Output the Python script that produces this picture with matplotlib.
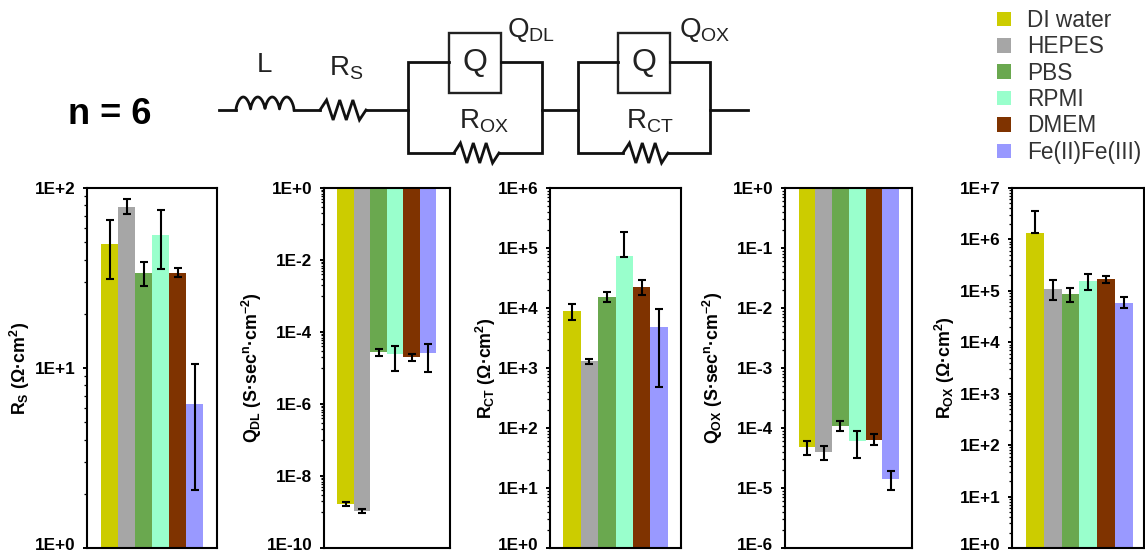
#!/usr/bin/python3
import numpy as np
import matplotlib
matplotlib.use('Agg')
import matplotlib.pyplot as plt
import matplotlib.patches as patches
from matplotlib.transforms import ScaledTranslation

plt.rcParams['font.family'] = ['Liberation Sans', 'DejaVu Sans']
plt.rcParams['mathtext.default'] = 'regular'

W, H = 1145, 552

media = ['DI water', 'HEPES', 'PBS', 'RPMI', 'DMEM', 'Fe(II)Fe(III)']
colors = ['#CCCC00', '#A6A6A6', '#6AA84F', '#99FFCC', '#7F3300', '#9999FF']

rs = [49, 78.4, 33.6, 55, 33.6, 6.3]
rs_hi = [66.6, 87, 39, 75.5, 36, 10.5]
rs_lo = [31.3, 71.7, 28.6, 35.4, 32, 2.1]

qdl = [1.68e-9, 1.07e-9, 2.85e-5, 2.45e-5, 2.0e-5, 2.6e-5]
qdl_hi = [1.9e-9, 1.24e-9, 3.4e-5, 4.0e-5, 2.45e-5, 4.6e-5]
qdl_lo = [1.44e-9, 9.1e-10, 2.1e-5, 8.5e-6, 1.57e-5, 7.6e-6]

rct = [8.9e3, 1.3e3, 1.53e4, 7.3e4, 2.2e4, 4.8e3]
rct_hi = [1.18e4, 1.39e3, 1.83e4, 1.82e5, 2.95e4, 9.7e3]
rct_lo = [6.4e3, 1.18e3, 1.25e4, 7.1e4, 1.65e4, 481]

qox = [4.74e-5, 4.0e-5, 1.08e-4, 6.05e-5, 6.4e-5, 1.4e-5]
qox_hi = [6.05e-5, 5.06e-5, 1.32e-4, 9e-5, 7.9e-5, 1.9e-5]
qox_lo = [3.6e-5, 2.88e-5, 8.9e-5, 3.2e-5, 5.3e-5, 9.1e-6]

rox = [1.36e6, 1.1e5, 8.5e4, 1.55e5, 1.69e5, 5.9e4]
rox_hi = [3.6e6, 1.6e5, 1.13e5, 2.1e5, 1.98e5, 7.5e4]
rox_lo = [1.36e6, 6.5e4, 6.2e4, 1.02e5, 1.44e5, 4.6e4]

fig = plt.figure(figsize=(W / 100, H / 100), dpi=100)


def panel(left, right, bar0, bar_w, vals, hi, lo, exps, step, baseline, label, label_x):
    top, bottom = 188, 548
    ax = fig.add_axes([left / W, 1 - bottom / H, (right - left) / W, (bottom - top) / H])
    ax.set_yscale('log')
    ax.set_ylim(10.0 ** exps[0], 10.0 ** exps[1])
    # keep the bars at their pixel width, bar0 is the left edge of the first one
    ax.set_xlim(-0.5 - (bar0 - left) / bar_w, -0.5 + (right - bar0) / bar_w)
    x = np.arange(len(vals))
    vals, hi, lo = np.array(vals), np.array(hi), np.array(lo)
    bars = ax.bar(x, np.abs(baseline - vals), 1.0, bottom=np.minimum(baseline, vals), color=colors)
    ax.errorbar(x, vals, yerr=[vals - lo, hi - vals], fmt='none', ecolor='black',
                elinewidth=1.5, capsize=2.8, capthick=1.5)
    major = np.arange(exps[0], exps[1] + 1, step)
    ax.set_yticks(10.0 ** major)
    ax.set_yticklabels(['1E%+d' % e for e in major], fontweight='bold', fontsize=12.3)
    minor = [k * 10.0 ** (e - 1) for e in major[1:] for k in range(1, 10)]
    ax.set_yticks(minor, minor=True)
    ax.set_yticklabels([], minor=True)
    ax.set_xticks([])
    ax.tick_params(axis='y', which='major', length=3, width=1.4, pad=5.5)
    ax.tick_params(axis='y', which='minor', length=2, width=0.9)
    # lowest label sits a bit higher so it stays inside the picture
    low = ax.get_yticklabels()[0]
    low.set_transform(low.get_transform() + ScaledTranslation(0, 4.5 / 100, fig.dpi_scale_trans))
    for s in ax.spines.values():
        s.set_linewidth(1.5)
    ax.set_ylabel(label, fontweight='bold', fontsize=12.8, va='center')
    ax.yaxis.set_label_coords((label_x - left) / (right - left), 0.5)
    return bars


bars = panel(87, 217, 101, 17.0, rs, rs_hi, rs_lo, (0, 2), 1, 1.0, 'R$_{S}$ (Ω·cm$^{2}$)', 20)
panel(324, 450, 337.3, 16.5, qdl, qdl_hi, qdl_lo, (-10, 0), 2, 1.0, 'Q$_{DL}$ (S·sec$^{n}$·cm$^{-2}$)', 252)
panel(550, 681, 563.3, 17.4, rct, rct_hi, rct_lo, (0, 6), 1, 1.0, 'R$_{CT}$ (Ω·cm$^{2}$)', 486)
panel(785, 912, 798.7, 16.7, qox, qox_hi, qox_lo, (-6, 0), 1, 1.0, 'Q$_{OX}$ (S·sec$^{n}$·cm$^{-2}$)', 713)
panel(1012, 1144, 1025.7, 17.9, rox, rox_hi, rox_lo, (0, 7), 1, 1.0, 'R$_{OX}$ (Ω·cm$^{2}$)', 945)

fig.legend(bars, media, loc='upper left', bbox_to_anchor=(981 / W, 1 + 7 / H), frameon=False,
           fontsize=16.3, handlelength=0.62, handleheight=0.62, handletextpad=0.72,
           labelspacing=0.15, labelcolor='#333333', borderaxespad=0.3)

# circuit drawing, pixel coordinates of the picture
sk = fig.add_axes([0, 0, 1, 1], zorder=5)
sk.set_xlim(0, W)
sk.set_ylim(H, 0)
sk.axis('off')
sk.patch.set_alpha(0)

wire = dict(color='#111111', lw=2.0, solid_capstyle='projecting', solid_joinstyle='miter')


def resistor(x0, x1, y, amp=10):
    xs = np.linspace(x0, x1, 8)
    ys = [y, y - amp, y + amp, y - amp, y + amp, y - amp, y + amp, y]
    sk.plot(xs, ys, **wire)


def coil(x0, x1, y, amp=13):
    t = np.linspace(0, 1, 200)
    xs = x0 + (x1 - x0) * t
    ys = y - amp * np.abs(np.sin(4 * np.pi * t)) ** 0.6
    sk.plot(xs, ys, color='#111111', lw=2.0)


wy = 110
sk.plot([219, 236], [wy, wy], **wire)
coil(236, 294, wy)
sk.plot([294, 320], [wy, wy], **wire)
resistor(320, 366, wy)
sk.plot([366, 408], [wy, wy], **wire)
for l, b0, b1, r0, r1, r in [(408, 449, 501, 454, 499, 542), (578, 618, 670, 623, 668, 710)]:
    sk.plot([b0, l, l, r0], [62, 62, 153, 153], **wire)
    sk.plot([b1, r, r, r1], [62, 62, 153, 153], **wire)
    resistor(r0, r1, 153)
    sk.add_patch(patches.Rectangle((b0, 33), b1 - b0, 60, fill=False, ec='#222222', lw=1.7))
    sk.text((b0 + b1) / 2, 63, 'Q', fontsize=23, ha='center', va='center', color='#222222')
sk.plot([542, 578], [wy, wy], **wire)
sk.plot([710, 748], [wy, wy], **wire)

txt = dict(fontsize=20, ha='center', va='center', color='#222222')
sk.text(264, 65, 'L', **txt)
sk.text(346, 68, 'R$_{S}$', **txt)
sk.text(531, 30, 'Q$_{DL}$', **txt)
sk.text(705, 30, 'Q$_{OX}$', **txt)
sk.text(484, 121, 'R$_{OX}$', **txt)
sk.text(650, 121, 'R$_{CT}$', **txt)
sk.text(110, 115, 'n = 6', fontsize=26, fontweight='bold', ha='center', va='center', color='black')

fig.savefig('out.png', dpi=100)
